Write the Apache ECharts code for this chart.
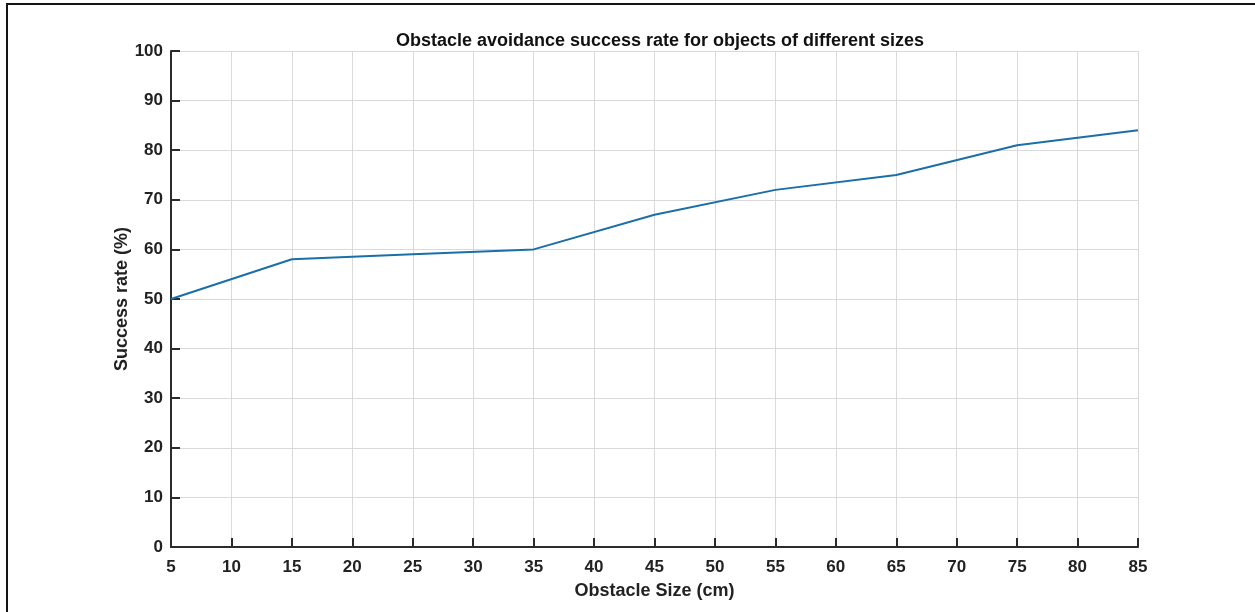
<!DOCTYPE html>
<html>
<head>
<meta charset="utf-8">
<script src="https://cdn.jsdelivr.net/npm/echarts@6/dist/echarts.min.js"></script>
<style>
html,body{margin:0;padding:0;background:#fff;}
#frame{position:absolute;left:6px;top:3px;width:1249px;height:609px;border-left:2px solid #141414;border-top:2px solid #141414;}
#chart{position:absolute;left:0;top:0;width:1255px;height:612px;}
</style>
</head>
<body>
<div id="frame"></div>
<div id="chart"></div>
<script>
// Data
var obstacleSizes = [5, 15, 25, 35, 45, 55, 65, 75, 85];
var successRates = [50, 58, 59, 60, 67, 72, 75, 81, 84];
var titleText = 'Obstacle avoidance success rate for objects of different sizes';
var xName = 'Obstacle Size (cm)';
var yName = 'Success rate (%)';

var chart = echarts.init(document.getElementById('chart'), null, {renderer: 'canvas'});
var font = 'Liberation Sans, Arial, Helvetica, sans-serif';
var axisColor = '#2b2b2b';
var pairs = obstacleSizes.map(function (x, i) { return [x, successRates[i]]; });

chart.setOption({
  backgroundColor: 'transparent',
  animation: false,
  title: {
    text: titleText,
    left: 655,
    textAlign: 'center',
    top: 27,
    textStyle: {fontFamily: font, fontSize: 18, fontWeight: 'bold', color: '#111'}
  },
  grid: {left: 171, right: 117, top: 51, bottom: 65, containLabel: false},
  xAxis: {
    type: 'value',
    min: 5, max: 85, interval: 5,
    name: xName,
    nameLocation: 'middle',
    nameGap: 35,
    nameMoveOverlap: false,
    nameTextStyle: {fontFamily: font, fontSize: 18, fontWeight: 'bold', color: '#222'},
    axisLine: {show: true, onZero: false, lineStyle: {color: axisColor, width: 2}},
    axisTick: {show: true, inside: true, length: 9, lineStyle: {color: axisColor, width: 2}},
    axisLabel: {fontFamily: font, fontSize: 17, fontWeight: 'bold', color: '#222', margin: 12},
    splitLine: {show: true, lineStyle: {color: '#d9d9d9', width: 1}}
  },
  yAxis: {
    type: 'value',
    min: 0, max: 100, interval: 10,
    name: yName,
    nameLocation: 'middle',
    nameGap: 40,
    nameMoveOverlap: false,
    nameTextStyle: {fontFamily: font, fontSize: 18, fontWeight: 'bold', color: '#222'},
    axisLine: {show: true, lineStyle: {color: axisColor, width: 2}},
    axisTick: {show: true, inside: true, length: 9, lineStyle: {color: axisColor, width: 2}},
    axisLabel: {fontFamily: font, fontSize: 17, fontWeight: 'bold', color: '#222', margin: 8},
    splitLine: {show: true, lineStyle: {color: '#d9d9d9', width: 1}}
  },
  series: [{
    type: 'line',
    data: pairs,
    showSymbol: false,
    symbol: 'none',
    lineStyle: {color: '#1a6fa8', width: 2},
    z: 5
  }]
});
</script>
</body>
</html>
